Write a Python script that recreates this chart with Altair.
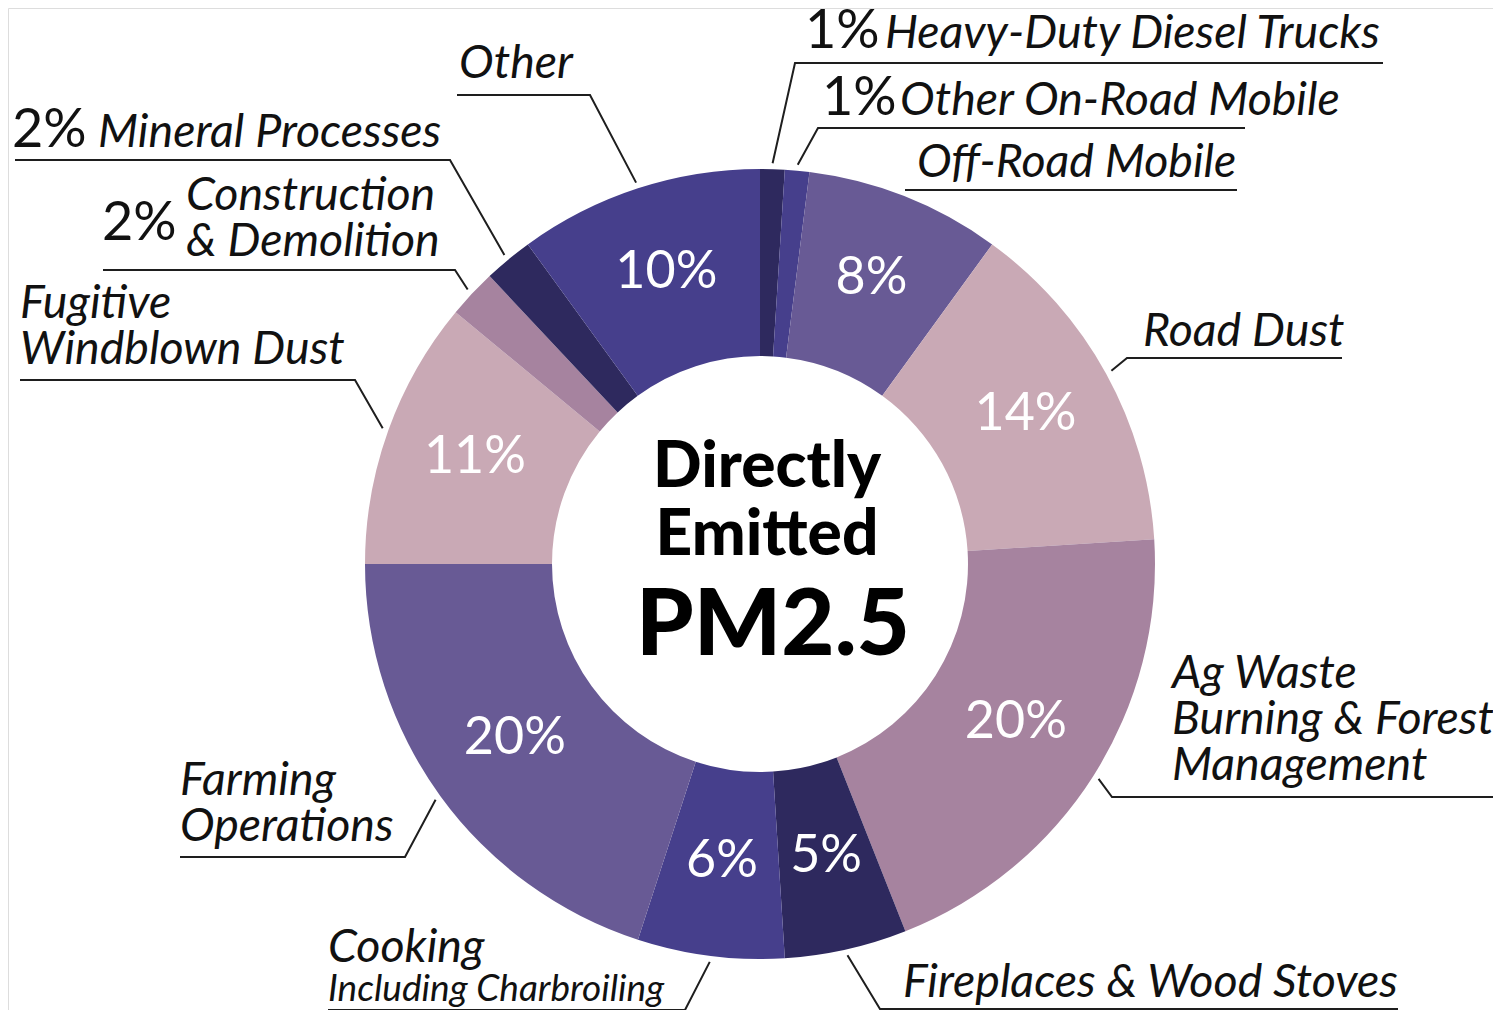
import math
import altair as alt
import pandas as pd

# ---------------- data ----------------
sources = [
    "Heavy-Duty Diesel Trucks", "Other On-Road Mobile", "Off-Road Mobile", "Road Dust",
    "Ag Waste Burning & Forest Management", "Fireplaces & Wood Stoves",
    "Cooking Including Charbroiling", "Farming Operations", "Fugitive Windblown Dust",
    "Construction & Demolition", "Mineral Processes", "Other",
]
shares = [1, 1, 8, 14, 20, 5, 6, 20, 11, 2, 2, 10]
colors = ["#2e295e", "#463f8c", "#685a95", "#c9a9b5", "#a6839f", "#2e295e",
          "#463f8c", "#685a95", "#c9a9b5", "#a6839f", "#2e295e", "#463f8c"]

# label text lines per source (outside labels)
label_lines = {
    "Heavy-Duty Diesel Trucks": ["Heavy-Duty Diesel Trucks"],
    "Other On-Road Mobile": ["Other On-Road Mobile"],
    "Off-Road Mobile": ["Off-Road Mobile"],
    "Road Dust": ["Road Dust"],
    "Ag Waste Burning & Forest Management": ["Ag Waste", "Burning & Forest", "Management"],
    "Fireplaces & Wood Stoves": ["Fireplaces & Wood Stoves"],
    "Cooking Including Charbroiling": ["Cooking"],
    "Farming Operations": ["Farming", "Operations"],
    "Fugitive Windblown Dust": ["Fugitive", "Windblown Dust"],
    "Construction & Demolition": ["Construction", "& Demolition"],
    "Mineral Processes": ["Mineral Processes"],
    "Other": ["Other"],
}
sub_lines = {"Cooking Including Charbroiling": ["Including Charbroiling"]}
prefixed = ["Heavy-Duty Diesel Trucks", "Other On-Road Mobile",
            "Construction & Demolition", "Mineral Processes"]
center_lines = ["Directly", "Emitted", "PM2.5"]

# ---------------- layout (page pixel coordinates) ----------------
W, H = 1485, 1002
OX, OY = 8, 8
CX, CY = 760, 564
R_OUT, R_IN, R_LEAD = 395, 208, 401

LAYOUT = {
    "Heavy-Duty Diesel Trucks": dict(tx=885, ty=48, ul=(795, 1383, 63), px=(805, 48)),
    "Other On-Road Mobile": dict(tx=900, ty=115, ul=(818, 1245, 128), px=(822, 115)),
    "Off-Road Mobile": dict(tx=917, ty=177, ul=(905, 1237, 190), lead=False),
    "Road Dust": dict(tx=1143, ty=346, ul=(1127, 1342, 358)),
    "Ag Waste Burning & Forest Management": dict(tx=1172, ty=688, ul=(1112, 1493, 797)),
    "Fireplaces & Wood Stoves": dict(tx=903, ty=997, ul=(880, 1398, 1009)),
    "Cooking Including Charbroiling": dict(tx=328, ty=962, ul=(685, 328, 1010), sub=(328, 1001)),
    "Farming Operations": dict(tx=180, ty=795, ul=(405, 180, 857)),
    "Fugitive Windblown Dust": dict(tx=20, ty=318, ul=(355, 20, 380)),
    "Construction & Demolition": dict(tx=186, ty=210, ul=(455, 103, 270), px=(102, 240)),
    "Mineral Processes": dict(tx=98, ty=147, ul=(450, 15, 160), px=(12, 147)),
    "Other": dict(tx=459, ty=78, ul=(590, 457, 95)),
}
LINE_STEP = 46

# ---------------- tables ----------------
slices = pd.DataFrame({"source": sources, "share": shares, "idx": list(range(len(sources)))})

total = sum(shares)
cum = 0
line_rows, text_rows, sub_rows, pre_rows = [], [], [], []
for s, v in zip(sources, shares):
    mid = (cum + v / 2) / total * 2 * math.pi
    cum += v
    L = LAYOUT[s]
    cx_, fx_, uy = L["ul"]
    pts = []
    if L.get("lead", True):
        pts.append((CX + R_LEAD * math.sin(mid), CY - R_LEAD * math.cos(mid)))
    pts += [(cx_, uy), (fx_, uy)]
    for i, (x, y) in enumerate(pts):
        line_rows.append({"key": s, "i": i, "x": x, "y": y})
    for j, t in enumerate(label_lines[s]):
        text_rows.append({"x": L["tx"], "y": L["ty"] + j * LINE_STEP, "text": t})
    if s in sub_lines:
        sub_rows.append({"x": L["sub"][0], "y": L["sub"][1], "text": sub_lines[s][0]})
    if s in prefixed:
        pre_rows.append({"x": L["px"][0], "y": L["px"][1], "text": f"{v}%"})

lines_df = pd.DataFrame(line_rows)
text_df = pd.DataFrame(text_rows)
sub_df = pd.DataFrame(sub_rows)
pre_df = pd.DataFrame(pre_rows)
center_df = pd.DataFrame({"x": [767, 767, 773], "y": [487, 555, 655], "text": center_lines,
                          "size": [64, 64, 92]})

xs = alt.Scale(domain=[OX, OX + W], nice=False, zero=False)
ys = alt.Scale(domain=[OY + H, OY], nice=False, zero=False)
X = lambda: alt.X("x:Q", scale=xs, axis=None)
Y = lambda: alt.Y("y:Q", scale=ys, axis=None)

FONT = "Lato"

arcs = alt.Chart(slices).mark_arc(innerRadius=R_IN, outerRadius=R_OUT).encode(
    theta=alt.Theta("share:Q", stack=True, scale=alt.Scale(range=[0, 2 * math.pi])),
    order=alt.Order("idx:Q"),
    color=alt.Color("source:N", scale=alt.Scale(domain=sources, range=colors), legend=None),
    x=alt.value(CX - OX), y=alt.value(CY - OY),
)

pct = alt.Chart(slices).transform_calculate(
    lab="datum.share >= 5 ? datum.share + '%' : ''"
).mark_text(radius=303, font=FONT, fontSize=52, fontWeight=400, color="white",
            align="center", baseline="middle", dy=-4).encode(
    theta=alt.Theta("share:Q", stack=True, scale=alt.Scale(range=[0, 2 * math.pi])),
    order=alt.Order("idx:Q"),
    text="lab:N",
    x=alt.value(CX - OX), y=alt.value(CY - OY),
)

leaders = alt.Chart(lines_df).mark_line(color="#1e1e1e", strokeWidth=2).encode(
    x=X(), y=Y(), detail="key:N", order="i:Q")

labels = alt.Chart(text_df).mark_text(font=FONT, fontSize=46.5, fontStyle="italic",
                                      align="left", baseline="alphabetic", color="#111").encode(
    x=X(), y=Y(), text="text:N")
subs = alt.Chart(sub_df).mark_text(font=FONT, fontSize=37, fontStyle="italic",
                                   align="left", baseline="alphabetic", color="#111").encode(
    x=X(), y=Y(), text="text:N")
pres = alt.Chart(pre_df).mark_text(font=FONT, fontSize=54, align="left",
                                   baseline="alphabetic", color="#111").encode(
    x=X(), y=Y(), text="text:N")
center = alt.Chart(center_df).mark_text(font=FONT, fontWeight=900, align="center",
                                        baseline="alphabetic", color="#000").encode(
    x=X(), y=Y(), text="text:N", size=alt.Size("size:Q", scale=None, legend=None))

chart = alt.layer(arcs, pct, leaders, labels, subs, pres, center).properties(
    width=W, height=H, padding=0, autosize=alt.AutoSizeParams(type="none")
).configure_view(strokeWidth=0, strokeOpacity=0, fill="white").configure(background="white")

chart.save("out.html", embed_options={"renderer": "svg", "actions": False})
